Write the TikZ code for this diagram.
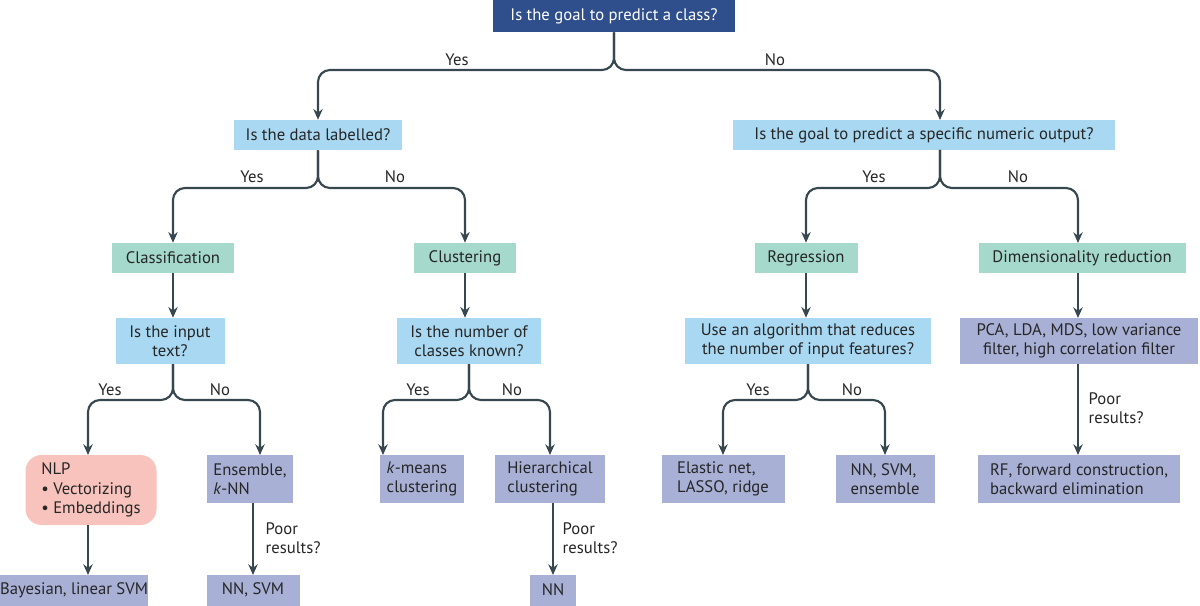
\documentclass[tikz,border=0pt]{standalone}
\usepackage{fontspec}
\setmainfont{PT Sans}
\usetikzlibrary{arrows.meta}
\definecolor{dk}{HTML}{2F4E8C}
\definecolor{lb}{HTML}{A9D8F2}
\definecolor{tl}{HTML}{A5D9CB}
\definecolor{pu}{HTML}{A8B0D6}
\definecolor{pk}{HTML}{F7C3BC}
\definecolor{ln}{HTML}{37474F}
\begin{document}
\begin{tikzpicture}[x=0.75pt,y=-0.75pt,font=\fontsize{12.5}{14.5}\selectfont,
 box/.style={inner sep=0pt,align=center,text=black!85},
 sz/.style 2 args={minimum width=#1*0.75pt,minimum height=#2*0.75pt},
 q/.style={box,fill=lb}, t/.style={box,fill=tl}, p/.style={box,fill=pu},
 ar/.style={draw=ln,line width=1.6pt,-{Stealth[length=8pt,width=7pt]}},
 br/.style={ar,rounded corners=9pt},
 lab/.style={text=black!85}]
\path[use as bounding box] (0,0) rectangle (1200,606);
\node[box,fill=dk,text=white,sz={242}{32}] (top) at (614,16) {Is the goal to predict a class?};
\node[q,sz={168}{30}] (lab) at (318,135) {Is the data labelled?};
\node[q,sz={382}{30}] (num) at (924,135) {Is the goal to predict a specific numeric output?};
\node[t,sz={122}{30}] (cla) at (173,258) {Classification};
\node[t,sz={102}{30}] (clu) at (465,258) {Clustering};
\node[t,sz={103}{30}] (reg) at (806,258) {Regression};
\node[t,sz={207}{30}] (dim) at (1082,258) {Dimensionality reduction};
\node[q,sz={109}{46}] (txt) at (170,341) {Is the input\\text?};
\node[q,sz={144}{46}] (ncl) at (469,341) {Is the number of\\classes known?};
\node[q,sz={246}{46}] (use) at (808,341) {Use an algorithm that reduces\\the number of input features?};
\node[p,sz={238}{46}] (pca) at (1079,341) {PCA, LDA, MDS, low variance\\filter, high correlation filter};
\node[box,fill=pk,rounded corners=12pt,sz={131}{70},align=left] (nlp) at (91,490) {NLP\\\textbullet\ Vectorizing\\\textbullet\ Embeddings};
\node[p,sz={86}{48},align=left] (ens) at (250,479) {Ensemble,\\\textit{k}-NN\hspace*{2.2em}};
\node[p,sz={84}{48},align=left] (km) at (422,479) {\textit{k}-means\\clustering};
\node[p,sz={110}{48},align=left] (hie) at (550,479) {Hierarchical\\clustering};
\node[p,sz={123}{48},align=left] (ela) at (723,479) {Elastic net,\\LASSO, ridge};
\node[p,sz={99}{48},align=left] (nse) at (885,479) {NN, SVM,\\ensemble};
\node[p,sz={202}{48},align=left] (rf) at (1079,479) {RF, forward construction,\\backward elimination};
\node[p,sz={147}{31}] (bay) at (74,590) {Bayesian, linear SVM};
\node[p,sz={93}{31}] (nsv) at (253,590) {NN, SVM};
\node[p,sz={46}{31}] (nn) at (553,590) {NN};
% branches
\draw[br] (top.south) -- (614,70) -- (318,70) -- (lab.north);
\draw[br] (top.south) -- (614,70) -- (940,70) -- (940,120);
\node[lab] at (457,60) {Yes}; \node[lab] at (775,60) {No};
\draw[br] (lab.south) -- (318,188) -- (173,188) -- (cla.north);
\draw[br] (lab.south) -- (318,188) -- (465,188) -- (clu.north);
\node[lab] at (252,177) {Yes}; \node[lab] at (395,177) {No};
\draw[br] (940,150) -- (940,188) -- (806,188) -- (reg.north);
\draw[br] (940,150) -- (940,188) -- (1078,188) -- (1078,243);
\node[lab] at (874,177) {Yes}; \node[lab] at (1018,177) {No};
\draw[ar] (cla) -- (cla.south|-txt.north);
\draw[ar] (clu) -- (clu.south|-ncl.north);
\draw[ar] (reg) -- (reg.south|-use.north);
\draw[ar] (1078,273) -- (1078,318);
\draw[br] (173,364) -- (173,400) -- (88,400) -- (88,455);
\draw[br] (173,364) -- (173,400) -- (260,400) -- (260,455);
\node[lab] at (110,390) {Yes}; \node[lab] at (220,390) {No};
\draw[br] (469,364) -- (469,400) -- (383,400) -- (383,455);
\draw[br] (469,364) -- (469,400) -- (550,400) -- (550,455);
\node[lab] at (418,390) {Yes}; \node[lab] at (512,390) {No};
\draw[br] (808,364) -- (808,400) -- (723,400) -- (723,455);
\draw[br] (808,364) -- (808,400) -- (885,400) -- (885,455);
\node[lab] at (758,390) {Yes}; \node[lab] at (852,390) {No};
\draw[ar] (1078,364) -- (1078,455);
\node[lab,align=left,anchor=west] at (1084,408) {Poor\\results?};
\draw[ar] (88,525) -- (88,575);
\draw[ar] (253,503) -- (253,575);
\node[lab,align=left,anchor=west] at (261,538) {Poor\\results?};
\draw[ar] (553,503) -- (553,575);
\node[lab,align=left,anchor=west] at (558,538) {Poor\\results?};
\end{tikzpicture}
\end{document}
